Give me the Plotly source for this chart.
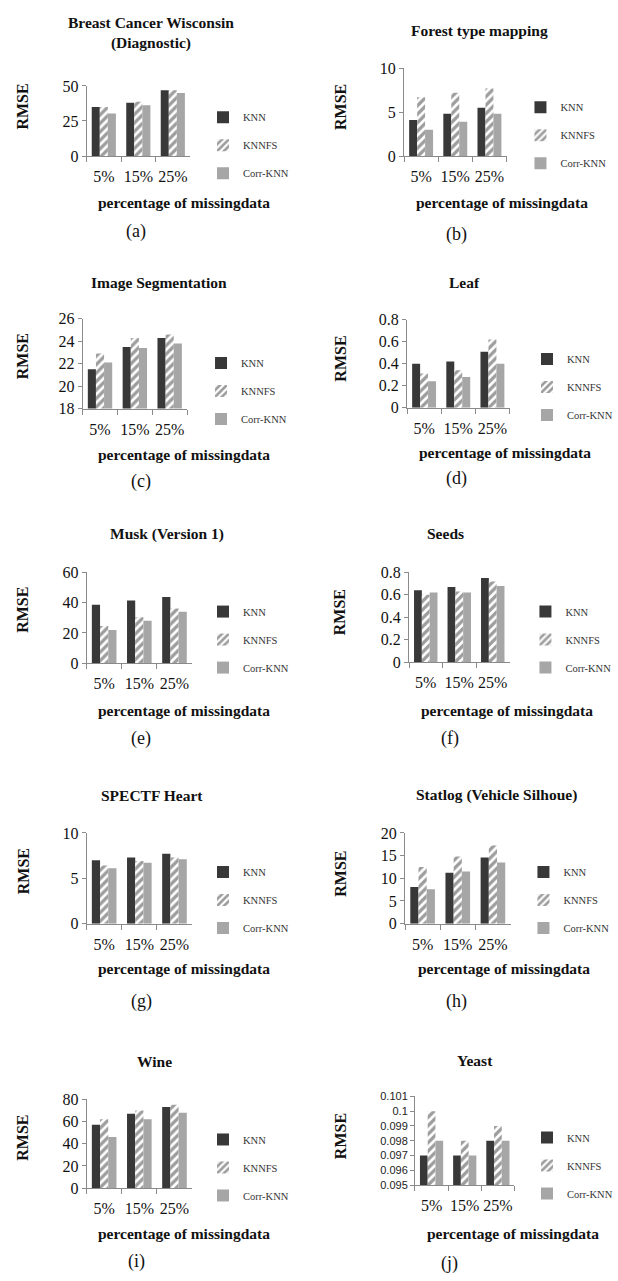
import plotly.graph_objects as go

W, H = 618, 1281

categories = ["5%", "15%", "25%"]
series_names = ["KNN", "KNNFS", "Corr-KNN"]

titles = ["Breast Cancer Wisconsin<br>(Diagnostic)", "Forest type mapping",
          "Image Segmentation", "Leaf", "Musk (Version 1)", "Seeds",
          "SPECTF Heart", "Statlog (Vehicle Silhoue)", "Wine", "Yeast"]
sub_labels = ["(a)", "(b)", "(c)", "(d)", "(e)", "(f)", "(g)", "(h)", "(i)", "(j)"]

breast_knn = [35.0, 38.0, 47.0]
breast_knnfs = [35.0, 38.7, 47.0]
breast_corr = [30.3, 36.2, 45.0]

forest_knn = [4.1, 4.8, 5.5]
forest_knnfs = [6.7, 7.2, 7.7]
forest_corr = [3.0, 3.9, 4.8]

image_knn = [21.5, 23.5, 24.3]
image_knnfs = [22.9, 24.3, 24.6]
image_corr = [22.1, 23.4, 23.8]

leaf_knn = [0.40, 0.42, 0.51]
leaf_knnfs = [0.31, 0.34, 0.62]
leaf_corr = [0.24, 0.28, 0.40]

musk_knn = [38.7, 41.5, 43.7]
musk_knnfs = [24.5, 30.3, 36.2]
musk_corr = [22.0, 28.0, 34.0]

seeds_knn = [0.64, 0.67, 0.75]
seeds_knnfs = [0.60, 0.63, 0.72]
seeds_corr = [0.62, 0.62, 0.68]

spectf_knn = [7.0, 7.3, 7.7]
spectf_knnfs = [6.4, 6.9, 7.3]
spectf_corr = [6.1, 6.7, 7.1]

statlog_knn = [8.1, 11.2, 14.6]
statlog_knnfs = [12.5, 14.8, 17.2]
statlog_corr = [7.6, 11.5, 13.5]

wine_knn = [57.0, 67.0, 73.0]
wine_knnfs = [62.0, 70.0, 75.0]
wine_corr = [46.0, 62.0, 68.0]

yeast_knn = [0.097, 0.097, 0.098]
yeast_knnfs = [0.100, 0.098, 0.099]
yeast_corr = [0.098, 0.097, 0.098]

y_ranges = [[0, 50], [0, 10], [18, 26], [0, 0.8], [0, 60],
            [0, 0.8], [0, 10], [0, 20], [0, 80], [0.095, 0.101]]
y_dticks = [25, 5, 2, 0.2, 20, 0.2, 5, 5, 20, 0.001]

panel_data = [
    (breast_knn, breast_knnfs, breast_corr),
    (forest_knn, forest_knnfs, forest_corr),
    (image_knn, image_knnfs, image_corr),
    (leaf_knn, leaf_knnfs, leaf_corr),
    (musk_knn, musk_knnfs, musk_corr),
    (seeds_knn, seeds_knnfs, seeds_corr),
    (spectf_knn, spectf_knnfs, spectf_corr),
    (statlog_knn, statlog_knnfs, statlog_corr),
    (wine_knn, wine_knnfs, wine_corr),
    (yeast_knn, yeast_knnfs, yeast_corr),
]

# ---- layout geometry (pixels) ----
# x0, x1, ytop, ybot, title_x, title_y, leg_x, leg_y(first item center),
# ylab_x, ylab_y, xlab_x, xlab_y, sub_x, sub_y
geom = [
    (87, 191, 79, 150, 152, 25, 230, 117, 23, 100, 185, 197, 137, 227),
    (406, 509, 61, 150, 482, 23, 549, 107, 342, 100, 504, 197, 459, 230),
    (83, 188, 315, 406, 160, 278, 228, 366, 22, 353, 185, 452, 142, 480),
    (409, 512, 316, 405, 467, 278, 556, 362, 342, 355, 507, 450, 459, 477),
    (87, 193, 572, 664, 168, 533, 230, 618, 23, 610, 185, 712, 142, 740),
    (411, 512, 572, 663, 448, 533, 554, 618, 342, 612, 509, 712, 452, 740),
    (87, 193, 836, 928, 153, 798, 230, 882, 23, 875, 185, 973, 142, 1007),
    (407, 513, 836, 928, 499, 798, 552, 882, 342, 877, 506, 973, 459, 1007),
    (87, 193, 1106, 1196, 155, 1068, 230, 1153, 23, 1145, 185, 1242, 137, 1270),
    (417, 517, 1103, 1193, 477, 1067, 556, 1151, 342, 1143, 516, 1242, 452, 1272),
]


def fx(x):
    return x / W


def fy(y):
    return 1 - y / H


SERIF = "Liberation Serif, Times New Roman, serif"
AXIS_COLOR = "#8a8a8a"
KNN_COLOR = "#383838"
KNNFS_COLOR = "#3c3c3c"
CORR_COLOR = "#a6a6a6"

fig = go.Figure()
layout = dict(
    width=W, height=H,
    margin=dict(l=0, r=0, t=0, b=0),
    paper_bgcolor="white", plot_bgcolor="white",
    barmode="group", bargap=0.3, bargroupgap=0.0,
    font=dict(family=SERIF, color="#111"),
    showlegend=True,
    annotations=[],
)

for i, (vals, g) in enumerate(zip(panel_data, geom)):
    n = i + 1
    xa = "x" if n == 1 else f"x{n}"
    ya = "y" if n == 1 else f"y{n}"
    lg = "legend" if n == 1 else f"legend{n}"
    x0, x1, yt, yb, tx, ty, lx, ly, ylx, yly, xlx, xly, sx, sy = g

    styles = [
        dict(color=KNN_COLOR, line=dict(width=0)),
        dict(color=KNNFS_COLOR, line=dict(width=0),
             pattern=dict(shape="/", fgcolor=KNNFS_COLOR, bgcolor="white",
                          size=6, solidity=0.55)),
        dict(color=CORR_COLOR, line=dict(width=0)),
    ]
    for s, (name, v) in enumerate(zip(series_names, vals)):
        fig.add_trace(go.Bar(
            x=categories, y=v, name=name, marker=styles[s],
            xaxis=xa, yaxis=ya, legend=lg, legendgroup=f"{n}_{s}",
            showlegend=True,
        ))

    xkey = "xaxis" if n == 1 else f"xaxis{n}"
    ykey = "yaxis" if n == 1 else f"yaxis{n}"
    layout[xkey] = dict(
        domain=[fx(x0), fx(x1)], anchor=ya, type="category",
        range=[-0.5, 2.5], showline=True, linecolor=AXIS_COLOR, linewidth=1,
        ticks="outside", tickson="boundaries", ticklen=5, tickcolor=AXIS_COLOR,
        showgrid=False, zeroline=False, fixedrange=True, tickangle=0,
        tickfont=dict(family=SERIF, size=16, color="#111"),
        ticklabelstandoff=6,
    )
    ytickfont = dict(family=SERIF, size=16, color="#111")
    if n == 10:
        ytickfont = dict(family="Liberation Sans, Arial, sans-serif", size=11, color="#222")
    layout[ykey] = dict(
        domain=[fy(yb), fy(yt)], anchor=xa, range=y_ranges[i], dtick=y_dticks[i],
        tick0=y_ranges[i][0],
        showline=True, linecolor=AXIS_COLOR, linewidth=1,
        ticks="outside", ticklen=4, tickcolor=AXIS_COLOR,
        showgrid=False, zeroline=False, fixedrange=True,
        tickfont=ytickfont,
    )
    layout[lg] = dict(
        x=fx(lx - 26), y=fy(ly - 21), xanchor="left", yanchor="top",
        orientation="v", traceorder="grouped", tracegroupgap=9,
        bgcolor="rgba(0,0,0,0)", borderwidth=0,
        font=dict(family=SERIF, size=10.5, color="#333"),
        itemwidth=30,
    )

    ann = layout["annotations"]
    ann.append(dict(text=f"<b>{titles[i]}</b>", x=fx(tx), y=fy(ty),
                    xref="paper", yref="paper", xanchor="center", yanchor="middle",
                    showarrow=False, font=dict(family=SERIF, size=15.5, color="#111")))
    ann.append(dict(text="<b>RMSE</b>", x=fx(ylx), y=fy(yly), textangle=-90,
                    xref="paper", yref="paper", xanchor="center", yanchor="middle",
                    showarrow=False, font=dict(family=SERIF, size=16, color="#111")))
    ann.append(dict(text="<b>percentage of missingdata</b>", x=fx(xlx), y=fy(xly),
                    xref="paper", yref="paper", xanchor="center", yanchor="middle",
                    showarrow=False, font=dict(family=SERIF, size=15.5, color="#111")))
    ann.append(dict(text=sub_labels[i], x=fx(sx), y=fy(sy),
                    xref="paper", yref="paper", xanchor="center", yanchor="middle",
                    showarrow=False, font=dict(family=SERIF, size=18, color="#111")))

fig.update_layout(**layout)
fig.write_html("out.html", config={"displayModeBar": False})
